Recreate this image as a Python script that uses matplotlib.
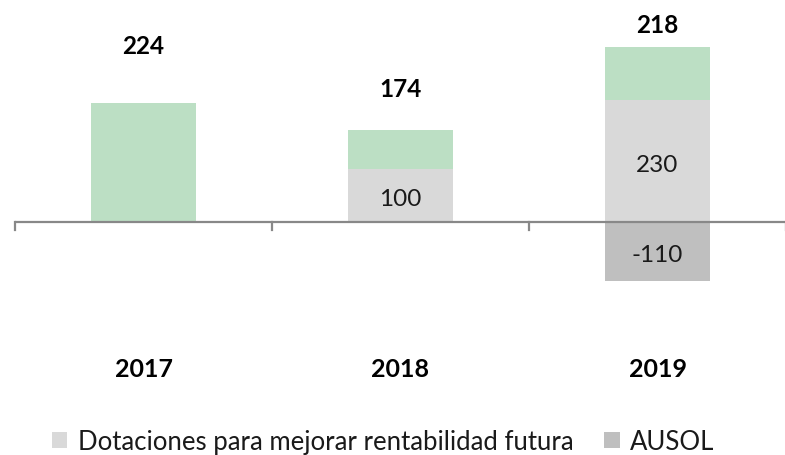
import numpy as np
import matplotlib.pyplot as plt

plt.rcParams['font.family'] = ['Lato', 'DejaVu Sans']

years = ['2017', '2018', '2019']
dotaciones = [0, 100, 230]
ausol = [0, 0, -110]
green = [224, 74, 98]
totals = [224, 174, 218]

# label heights for the totals (data units), as placed in the original
total_label_y = [331, 252, 372]

c_green = '#bcdfc4'
c_light = '#d9d9d9'
c_dark = '#bfbfbf'

fig = plt.figure(figsize=(7.85, 4.56), dpi=100)
ax = fig.add_axes([15 / 785, 0, 771 / 785, 1])

x = np.arange(len(years))
w = 0.405

b1 = ax.bar(x, dotaciones, w, color=c_light, label='Dotaciones para mejorar rentabilidad futura')
b2 = ax.bar(x, ausol, w, color=c_dark, label='AUSOL')
ax.bar(x, green, w, bottom=dotaciones, color=c_green)

for i in range(len(years)):
    if dotaciones[i]:
        ax.text(x[i], dotaciones[i] / 2 - 6, str(dotaciones[i]), ha='center', va='center',
                fontsize=17.5, color='#1a1a1a')
    if ausol[i]:
        ax.text(x[i], ausol[i] / 2 - 6, str(ausol[i]), ha='center', va='center',
                fontsize=17.5, color='#1a1a1a')
    ax.text(x[i], total_label_y[i], str(totals[i]), ha='center', va='center',
            fontsize=17.5, fontweight='bold', color='black')
    ax.text(x[i], -275, years[i], ha='center', va='center',
            fontsize=18, fontweight='bold', color='black')

ax.set_xlim(-0.5, 2.5)
ax.set_ylim(-436.6, 419)
ax.axhline(0, color='#888888', lw=1.6, zorder=3)
for t in [-0.5, 0.5, 1.5, 2.5]:
    ax.plot([t, t], [0, -14], color='#888888', lw=1.6, zorder=3, clip_on=False)
for s in ax.spines.values():
    s.set_visible(False)
ax.set_xticks([])
ax.set_yticks([])

fig.legend(handles=[b1, b2], loc='center', bbox_to_anchor=(0.488, 0.03), ncol=2,
           frameon=False, fontsize=18.5, handlelength=0.6, handleheight=0.6,
           handletextpad=0.4, columnspacing=1.2, labelcolor='#1a1a1a')

fig.savefig('out.png', dpi=100)
